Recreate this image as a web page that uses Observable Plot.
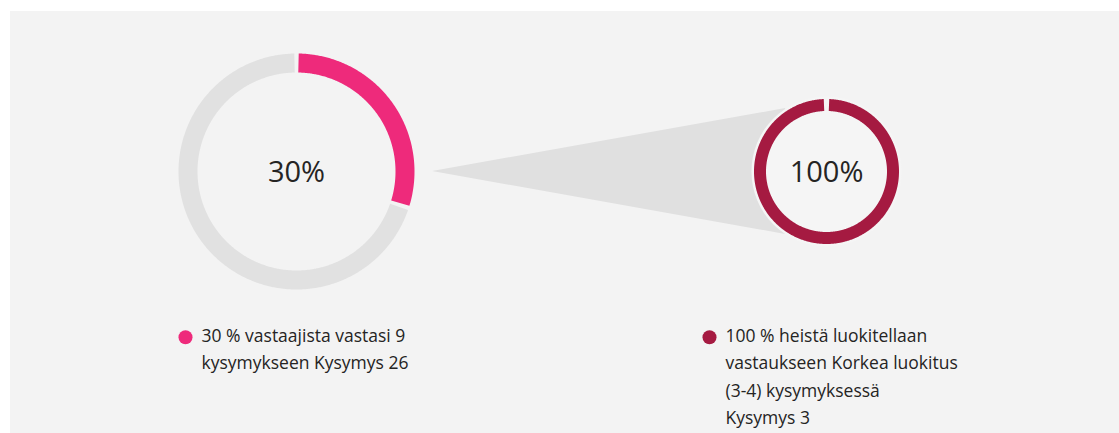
<!DOCTYPE html>
<html>
<head>
<meta charset="utf-8">
<script src="https://cdn.jsdelivr.net/npm/d3@7"></script>
<script src="https://cdn.jsdelivr.net/npm/@observablehq/plot@0.6"></script>
<style>
  html, body { margin: 0; padding: 0; background: #ffffff; }
  #panel { position: absolute; left: 10px; top: 11px; width: 1109px; height: 422px; background: #f3f3f3; overflow: hidden; }
  #panel svg { display: block; background: transparent; }
</style>
</head>
<body>
<div id="panel"></div>
<script>
// ---- data ----
const questions = ["Kysymys 26", "Kysymys 3"];
const percents = [30, 100];
const centerLabels = ["30%", "100%"];
const sliceColors = ["#ee2a7b", "#a51a41"];
const restColor = "#e1e1e1";
const legendLines = [
  ["30 % vastaajista vastasi 9", "kysymykseen Kysymys 26"],
  ["100 % heistä luokitellaan", "vastaukseen Korkea luokitus", "(3-4) kysymyksessä", "Kysymys 3"]
];

// ---- layout (pixels inside panel) ----
const W = 1109, H = 422;
const FONT = "'Open Sans', 'Noto Sans', sans-serif";
const donutLayout = [
  {cx: 286, cy: 160, r: 118, t: 19, gap: 4},
  {cx: 816, cy: 160, r: 72.5, t: 12, gap: 5}
];
const legendLayout = [
  {x: 175, y: 325.7},
  {x: 699, y: 325.7}
];

// build arc slices from values
const arcPts = [];
percents.forEach((p, i) => {
  const L = donutLayout[i];
  const rm = L.r - L.t / 2;
  const slices = [{v: p, color: sliceColors[i]}, {v: 100 - p, color: restColor}].filter(s => s.v > 0);
  let acc = 0;
  slices.forEach((s, j) => {
    const ga = L.gap / rm;
    const a0 = acc / 100 * 2 * Math.PI + ga / 2;
    const a1 = (acc + s.v) / 100 * 2 * Math.PI - ga / 2;
    acc += s.v;
    const n = Math.max(2, Math.ceil((a1 - a0) / (Math.PI / 360)));
    for (let k = 0; k <= n; k++) {
      const a = a0 + (a1 - a0) * k / n;
      arcPts.push({donut: i, key: i + "-" + j, color: s.color,
        x: L.cx + rm * Math.sin(a), y: L.cy - rm * Math.cos(a)});
    }
  });
});

// funnel from left donut to right donut
const Lf = donutLayout[0], Rf = donutLayout[1];
const haloR = Rf.r + 2.5;
const endAng = 33 * Math.PI / 180;
const funnel = [
  {x: Lf.cx + Lf.r + 18, y1: Lf.cy, y2: Lf.cy},
  {x: Rf.cx - haloR * Math.sin(endAng), y1: Rf.cy - haloR * Math.cos(endAng), y2: Rf.cy + haloR * Math.cos(endAng)}
];

const centers = donutLayout.map((L, i) => ({x: L.cx, y: L.cy + 1, label: centerLabels[i]}));
const legends = legendLayout.map((L, i) => ({x: L.x, y: L.y, color: sliceColors[i], text: legendLines[i].join("\n"), q: questions[i]}));

const chart = Plot.plot({
  width: W, height: H,
  margin: 0,
  x: {type: "identity", axis: null},
  y: {type: "identity", axis: null},
  color: {type: "identity"},
  style: {fontFamily: FONT, background: "transparent"},
  marks: [
    Plot.areaY(funnel, {x: "x", y1: "y1", y2: "y2", fill: "#e0e0e0", curve: "linear"}),
    Plot.dot([Rf], {x: "cx", y: "cy", r: haloR, fill: "#f5f5f5", stroke: "none"}),
    Plot.line(arcPts.filter(d => d.donut === 0), {x: "x", y: "y", z: "key", stroke: "color", strokeWidth: donutLayout[0].t, strokeLinecap: "butt", curve: "linear"}),
    Plot.line(arcPts.filter(d => d.donut === 1), {x: "x", y: "y", z: "key", stroke: "color", strokeWidth: donutLayout[1].t, strokeLinecap: "butt", curve: "linear"}),
    Plot.text(centers, {x: "x", y: "y", text: "label", fontSize: 29, fontWeight: 400, fill: "#252423", textAnchor: "middle"}),
    Plot.dot(legends, {x: "x", y: "y", r: 7, fill: "color", stroke: "none"}),
    Plot.text(legends, {x: d => d.x + 16, y: d => d.y - 14.5, text: "text", fontSize: 17.5, lineHeight: 1.56, lineAnchor: "top", textAnchor: "start", fill: "#252423"})
  ]
});
document.getElementById("panel").appendChild(chart);
</script>
</body>
</html>
